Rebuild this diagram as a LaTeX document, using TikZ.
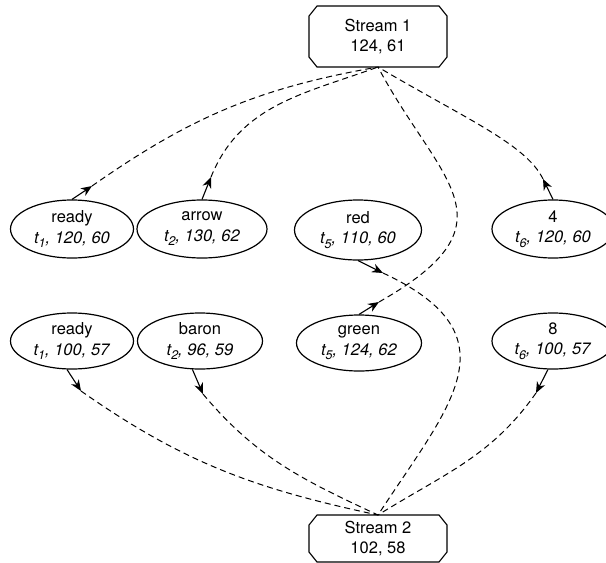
\documentclass[tikz,border=0pt]{standalone}
\usepackage{fontspec}
\setmainfont{TeX Gyre Heros}
\usetikzlibrary{shapes.geometric,arrows.meta}
\newcommand{\tokline}[2]{\textit{t\raisebox{-4.5pt}{\fontsize{12.5}{12.5}\selectfont #1}, #2}}
\newcommand{\chamfer}[1]{%
  \draw[line width=1.1pt] ([xshift=8pt]#1.north west) -- ([xshift=-8pt]#1.north east)
    -- ([yshift=-10pt]#1.north east) -- ([yshift=10pt]#1.south east)
    -- ([xshift=-8pt]#1.south east) -- ([xshift=8pt]#1.south west)
    -- ([yshift=10pt]#1.south west) -- ([yshift=-10pt]#1.north west) -- cycle;}
\begin{document}
\begin{tikzpicture}[x=1pt,y=1pt,
  stream/.style={rectangle, outer sep=0pt, minimum width=138pt, inner sep=0pt, align=center, font=\fontsize{16.5}{19.5}\selectfont},
  tok/.style={draw, line width=1.2pt, ellipse, inner sep=0pt, align=center, font=\fontsize{16.5}{20.5}\selectfont},
  conn/.style={dash pattern=on 6pt off 4pt, line width=1pt},
  tip/.style={line width=1.1pt, -{Stealth[length=11pt,width=9pt,inset=3.5pt]}}
]
\useasboundingbox (0,0) rectangle (606,-563);
\node[stream, minimum height=61pt] (S1) at (378,-36.5) {Stream 1\\124, 61};
\node[stream, minimum height=47pt] (S2) at (378,-538.5) {Stream 2\\102, 58};
\chamfer{S1}
\chamfer{S2}

\node[tok, minimum width=123pt, minimum height=58pt] (ready1) at (72,-229) {ready\\\tokline{1}{120, 60}};
\node[tok, minimum width=130pt, minimum height=58pt] (arrow1) at (202,-229) {arrow\\\tokline{2}{130, 62}};
\node[tok, minimum width=127pt, minimum height=60pt] (red) at (358,-230) {red\\\tokline{5}{110, 60}};
\node[tok, minimum width=122pt, minimum height=58pt] (four) at (553,-229) {4\\\tokline{6}{120, 60}};

\node[tok, minimum width=123pt, minimum height=56pt] (ready2) at (72,-341) {ready\\\tokline{1}{100, 57}};
\node[tok, minimum width=125pt, minimum height=56pt] (baron) at (200,-341) {baron\\\tokline{2}{96, 59}};
\node[tok, minimum width=125pt, minimum height=56pt] (green) at (359,-343) {green\\\tokline{5}{124, 62}};
\node[tok, minimum width=122pt, minimum height=56pt] (eight) at (553,-341) {8\\\tokline{6}{100, 57}};

\coordinate (t1) at (92,-186);
\coordinate (t2) at (211,-177);
\coordinate (t4) at (543,-179);
\coordinate (tg) at (379,-302);
\coordinate (tr) at (383,-273);
\coordinate (tq) at (81,-391);
\coordinate (tb) at (203,-394);
\coordinate (t8) at (536,-393);

\draw[tip] (ready1.north) -- (t1);
\draw[conn] (t1) to[out=35,in=190] (S1.south);
\draw[tip] (arrow1.north) -- (t2);
\draw[conn] (t2) to[out=68,in=200] (S1.south);
\draw[tip] (four.north) -- (t4);
\draw[conn] (t4) .. controls (526,-144) and (464,-118) .. (S1.south);
\draw[tip] (green.north) -- (tg);
\draw[conn] (tg) .. controls (520,-222) and (439,-182) .. (S1.south);
\draw[tip] (red.south) -- (tr);
\draw[conn] (tr) .. controls (518,-336) and (449,-406) .. (S2.north);
\draw[tip] (ready2.-100) -- (tq);
\draw[conn] (tq) to[out=-35,in=168] (S2.north);
\draw[tip] (baron.-105) -- (tb);
\draw[conn] (tb) to[out=-50,in=155] (S2.north);
\draw[tip] (eight.-100) -- (t8);
\draw[conn] (t8) to[out=235,in=32] (S2.north);
\end{tikzpicture}
\end{document}
